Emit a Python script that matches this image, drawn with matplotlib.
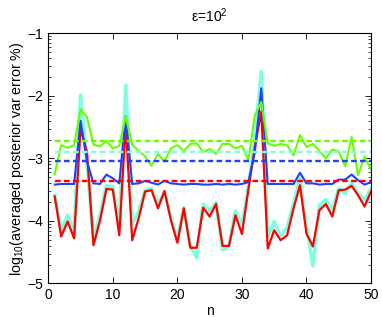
"""
 log10 averaged posterior var error, eps = 10^2
"""
import matplotlib
matplotlib.use('Agg')
import matplotlib.pyplot as plt
import numpy as np

plt.rcParams['font.family'] = ['Liberation Sans', 'DejaVu Sans']
plt.rcParams['mathtext.fontset'] = 'custom'
plt.rcParams['mathtext.rm'] = 'Liberation Sans'
plt.rcParams['mathtext.it'] = 'Liberation Sans'

n = np.arange(1, 51)

green = [-3.25, -2.79, -2.83, -2.79, -2.22, -2.34, -2.78, -2.81, -2.72, -2.84,
         -2.80, -2.33, -2.78, -2.88, -2.97, -3.12, -2.93, -3.05, -2.84, -2.79,
         -2.88, -2.77, -2.76, -2.90, -2.85, -2.93, -2.77, -2.77, -2.84, -2.80,
         -3.03, -2.31, -2.10, -2.76, -2.80, -2.77, -2.79, -2.95, -2.63, -2.82,
         -2.77, -2.88, -3.00, -2.86, -2.89, -3.13, -2.66, -3.27, -2.97, -3.18]
blue = [-3.42, -3.41, -3.41, -3.41, -2.40, -3.05, -3.40, -3.41, -3.26, -3.32,
        -3.40, -2.33, -3.41, -3.40, -3.36, -3.39, -3.42, -3.36, -3.40, -3.41,
        -3.42, -3.41, -3.41, -3.42, -3.42, -3.41, -3.42, -3.41, -3.42, -3.41,
        -3.38, -2.90, -1.88, -3.41, -3.41, -3.41, -3.41, -3.41, -3.23, -3.40,
        -3.40, -3.42, -3.41, -3.41, -3.34, -3.34, -3.26, -3.35, -3.42, -3.38]
red = [-3.61, -4.25, -4.01, -4.28, -2.52, -2.90, -4.39, -4.00, -3.49, -3.50,
       -4.23, -2.45, -4.31, -3.96, -3.53, -3.51, -3.80, -3.52, -3.99, -4.35,
       -3.80, -4.43, -4.43, -3.79, -3.93, -3.73, -4.40, -4.40, -3.91, -4.21,
       -3.50, -2.82, -2.25, -4.44, -4.15, -4.31, -4.23, -3.80, -3.43, -4.20,
       -4.41, -3.83, -3.73, -3.93, -3.51, -3.50, -3.44, -3.59, -3.77, -3.53]
cyan = [-3.59, -4.15, -3.91, -4.20, -1.99, -3.10, -4.28, -3.92, -3.44, -3.45,
        -4.07, -1.83, -4.05, -3.85, -3.51, -3.48, -3.72, -3.56, -3.93, -4.31,
        -3.79, -4.39, -4.59, -3.73, -3.84, -3.71, -4.46, -4.41, -3.84, -4.07,
        -3.45, -2.72, -1.61, -4.25, -4.01, -4.24, -4.11, -3.72, -3.32, -4.09,
        -4.72, -3.75, -3.66, -3.83, -3.48, -3.56, -3.39, -3.56, -3.67, -3.48]

# averages (dashed)
mean_green = -2.72
mean_cyan = -2.90
mean_blue = -3.04
mean_red = -3.36

c_green = '#66ff00'
c_cyan = '#80ffe0'
c_blue = '#2040ff'
c_red = '#ff0000'

fig = plt.figure(figsize=(3.82, 3.17), dpi=100)
ax = fig.add_axes([0.1264, 0.106, 0.8448, 0.789])

ax.plot(n, cyan, color=c_cyan, lw=2.6, zorder=2)
ax.plot(n, red, color=c_red, lw=1.6, zorder=3)
ax.plot(n, blue, color=c_blue, lw=1.5, zorder=4)
ax.plot(n, green, color=c_green, lw=1.5, zorder=5)

for m, c in [(mean_green, c_green), (mean_cyan, c_cyan),
             (mean_blue, c_blue), (mean_red, c_red)]:
    ax.plot([n[0], n[-1]], [m, m], color=c, lw=1.7, dashes=(2.4, 1.4), zorder=6)

ax.set_xlim(0, 50)
ax.set_ylim(-5, -1)
ax.set_xticks([0, 10, 20, 30, 40, 50])
ax.set_yticks([-5, -4, -3, -2, -1])
minor = [d + np.log10(k) for d in range(-5, -1) for k in range(2, 10)]
ax.set_yticks(minor, minor=True)
ax.tick_params(which='both', direction='in', top=True, right=True,
               labelsize=10)
ax.tick_params(which='major', length=4, width=0.6)
ax.tick_params(which='minor', length=2, width=0.5)
ax.set_yticklabels(['\u22125', '\u22124', '\u22123', '\u22122', '\u22121'])
for s in ax.spines.values():
    s.set_linewidth(0.8)

ax.set_xlabel('n', fontsize=10, labelpad=1)
ax.set_ylabel('log$_{10}$(averaged posterior var error %)', fontsize=10.3,
              labelpad=1)
ax.set_title('\u03b5=10$^2$', fontsize=10, pad=8)

fig.savefig('out.png', dpi=100)
